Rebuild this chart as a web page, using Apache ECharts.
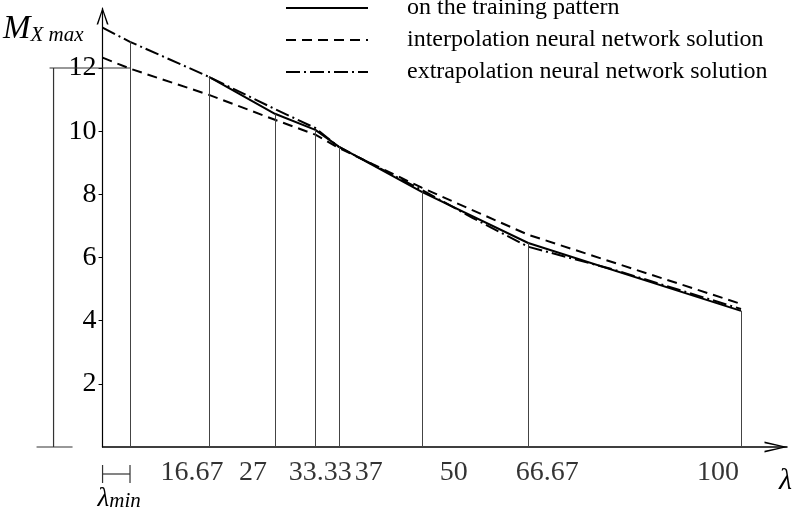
<!DOCTYPE html>
<html><head><meta charset="utf-8">
<script src="https://cdn.jsdelivr.net/npm/echarts@6/dist/echarts.min.js"></script>
<style>html,body{margin:0;padding:0;background:#fff}#c{width:795px;height:510px}</style>
</head><body><div id="c"></div>
<script>
// ---- data ----
const xTicks = [16.67, 27, 33.33, 37, 50, 66.67, 100];
const xTickLabels = ['16.67', '27', '33.33', '37', '50', '66.67', '100'];
const lambdaMin = 4.3;
const trainingY = [11.72, 10.55, 10.04, 9.51, 8.08, 6.46, 4.31];
const interpX = [0, 4.3, 16.67, 27, 33.33, 37, 50, 66.67, 100];
const interpY = [12.33, 11.98, 11.15, 10.36, 9.89, 9.47, 8.21, 6.72, 4.53];
const extrapX = [0, 4.3, 16.67, 27, 33.33, 37, 50, 58, 66.67, 80, 100];
const extrapY = [13.28, 12.83, 11.72, 10.7, 10.1, 9.5, 8.14, 7.25, 6.34, 5.62, 4.37];
const yTicks = [2, 4, 6, 8, 10, 12];
const scaleBarRange = [0, 12];
const seriesNames = ['on the training pattern', 'interpolation neural network solution', 'extrapolation neural network solution'];

// ---- styles ----
const FONT = 'Liberation Serif';
const xLabelShift = [-17, -22, 5, 30, 32, 19, -23];
const zip = (xs, ys) => xs.map((x, i) => [x, ys[i]]);

const chart = echarts.init(document.getElementById('c'), null, {renderer: 'canvas'});
const thin = {stroke: '#333', lineWidth: 1.2};

const option = {
  animation: false,
  backgroundColor: '#fff',
  grid: {left: 102, right: 5, top: 8, bottom: 63, containLabel: false},
  legend: {
    orient: 'vertical', left: 285, top: -4, padding: 0,
    itemWidth: 82, itemHeight: 14, itemGap: 8,
    data: seriesNames,
    itemStyle: {opacity: 0},
    textStyle: {fontFamily: FONT, fontSize: 24, color: '#000', padding: [0, 0, 0, 34]}
  },
  xAxis: {
    type: 'value', min: 0, max: 107.2,
    name: 'λ', nameLocation: 'end', nameGap: 5,
    nameTextStyle: {fontFamily: FONT, fontStyle: 'italic', fontSize: 30, color: '#000', align: 'right', verticalAlign: 'top', padding: [19, 0, 0, 0]},
    axisLine: {show: true, lineStyle: {color: '#000', width: 1.5},
      symbol: ['none', 'path://M0,23 L5.5,0 L11,23 L9.3,23 L5.5,5 L1.7,23 Z'],
      symbolSize: [11, 23], symbolOffset: [0, -11]},
    axisTick: {show: false}, axisLabel: {show: false}, splitLine: {show: false}
  },
  yAxis: {
    type: 'value', min: 0, max: 13.9,
    name: '{m|M}{s|X max}', nameLocation: 'end', nameGap: -38,
    nameTextStyle: {align: 'right', verticalAlign: 'bottom', padding: [0, 19, 0, 0],
      rich: {
        m: {fontFamily: FONT, fontStyle: 'italic', fontSize: 33, color: '#000', verticalAlign: 'bottom'},
        s: {fontFamily: FONT, fontStyle: 'italic', fontSize: 21, color: '#000', verticalAlign: 'bottom'}
      }},
    axisLine: {show: true, lineStyle: {color: '#000', width: 1.2},
      symbol: ['none', 'path://M0,17 L6,0 L12,17 L10.4,17 L6,3.5 L1.6,17 Z'],
      symbolSize: [12, 17], symbolOffset: [0, -8]},
    axisTick: {show: true, length: 4, customValues: yTicks, lineStyle: {color: '#000', width: 1}},
    axisLabel: {show: true, customValues: yTicks, margin: 6, fontFamily: FONT, fontSize: 28, color: '#000'},
    splitLine: {show: false}
  },
  series: [
    {
      name: seriesNames[0], type: 'line', symbol: 'none',
      data: zip(xTicks, trainingY),
      lineStyle: {color: '#000', width: 2, type: 'solid'},
      itemStyle: {color: '#000'}, z: 4,
      markLine: {
        silent: true, symbol: ['none', 'none'], label: {show: false},
        lineStyle: {color: '#444', width: 1, type: 'solid'},
        data: xTicks.map((x, i) => [{coord: [x, 0]}, {coord: [x, trainingY[i]]}])
          .concat([[{coord: [lambdaMin, 0]}, {coord: [lambdaMin, extrapY[extrapX.indexOf(lambdaMin)]]}]])
      }
    },
    {
      name: seriesNames[1], type: 'line', symbol: 'none',
      data: zip(interpX, interpY),
      lineStyle: {color: '#000', width: 2, type: [10, 6]},
      itemStyle: {color: '#000'}, z: 3
    },
    {
      name: seriesNames[2], type: 'line', symbol: 'none',
      data: zip(extrapX, extrapY),
      lineStyle: {color: '#000', width: 2, type: [14, 4, 2, 4]},
      itemStyle: {color: '#000'}, z: 3
    },
    {
      name: 'tickLabels', type: 'scatter', symbolSize: 1,
      itemStyle: {color: 'rgba(0,0,0,0)'}, silent: true,
      data: xTicks.map((x, i) => ({
        value: [x, 0],
        label: {show: true, position: 'inside', offset: [xLabelShift[i], 26], formatter: xTickLabels[i],
          fontFamily: FONT, fontSize: 28, color: '#000'}
      }))
    },
    {
      name: 'annotations', type: 'custom', silent: true, clip: false,
      data: [[lambdaMin, scaleBarRange[1]]],
      renderItem: function (params, api) {
        const o = api.coord([0, scaleBarRange[0]]);
        const top = api.coord([0, api.value(1)]);
        const lm = api.coord([api.value(0), 0]);
        const barX = o[0] - 49;
        const by = o[1] + 27;
        return {type: 'group', children: [
          {type: 'line', shape: {x1: barX, y1: o[1], x2: barX, y2: top[1]}, style: thin},
          {type: 'line', shape: {x1: barX - 4, y1: top[1], x2: lm[0], y2: top[1]}, style: thin},
          {type: 'line', shape: {x1: barX - 17, y1: o[1], x2: barX + 19, y2: o[1]}, style: thin},
          {type: 'line', shape: {x1: o[0], y1: by, x2: lm[0], y2: by}, style: thin},
          {type: 'line', shape: {x1: o[0], y1: by - 9, x2: o[0], y2: by + 9}, style: thin},
          {type: 'line', shape: {x1: lm[0], y1: by - 9, x2: lm[0], y2: by + 9}, style: thin},
          {type: 'text', x: o[0] - 5, y: o[1] + 38, style: {
            text: '{l|λ}{s|min}',
            rich: {
              l: {fontFamily: FONT, fontStyle: 'italic', fontSize: 27, fill: '#000', verticalAlign: 'bottom'},
              s: {fontFamily: FONT, fontStyle: 'italic', fontSize: 21, fill: '#000', verticalAlign: 'bottom'}
            }
          }}
        ]};
      }
    }
  ]
};
chart.setOption(option);
</script>
</body></html>
